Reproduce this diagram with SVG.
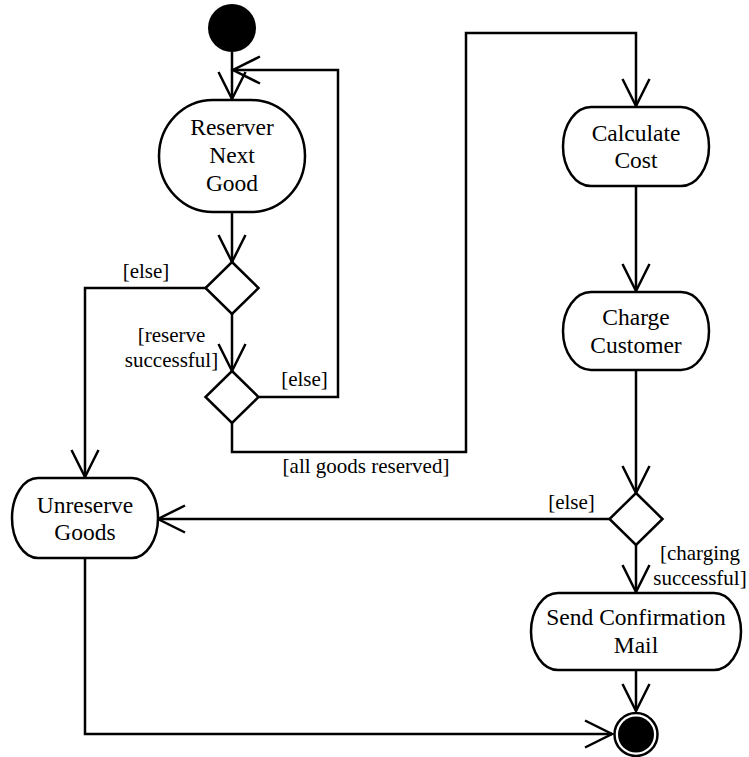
<svg xmlns="http://www.w3.org/2000/svg" width="749" height="757" viewBox="0 0 749 757">
  <style>
    .node { fill: #fff; stroke: #000; stroke-width: 2.5; }
    .solid { fill: #000; stroke: none; }
    .edge { fill: none; stroke: #000; stroke-width: 2.5; marker-end: url(#open); }
    text { fill: #000; text-anchor: middle; }
    .lbl { font-size: 23.5px; }
    .guard { font-size: 21px; }
  </style>
  <defs>
    <marker id="open" markerUnits="userSpaceOnUse" markerWidth="40" markerHeight="40" viewBox="-32 -20 40 40" refX="0" refY="0" orient="auto" overflow="visible">
      <path d="M-27,-13.5 L0,0 L-27,13.5" fill="none" stroke="#000" stroke-width="2.5"/>
    </marker>
  </defs>

  <rect width="749" height="757" fill="#fff"/>

  <g font-family="'Liberation Serif', 'DejaVu Serif', serif">
  <g id="connectors">
    <path class="edge" d="M232,52 V99"/>
    <path class="edge" d="M259,397 H338 V70 H233"/>
    <path class="edge" d="M232,212 V262"/>
    <path class="edge" d="M232,314 V371"/>
    <path class="edge" d="M206,288 H85 V477"/>
    <path class="edge" d="M232,423 V452 H466 V33 H636 V106"/>
    <path class="edge" d="M636,186 V291"/>
    <path class="edge" d="M636,370 V493"/>
    <path class="edge" d="M610,519 H158"/>
    <path class="edge" d="M636,545 V592"/>
    <path class="edge" d="M636,670 V711"/>
    <path class="edge" d="M85,558 V734 H612"/>
    <text class="guard" x="146" y="278">[else]</text>
    <text class="guard" x="171.5" y="342">[reserve</text>
    <text class="guard" x="171.5" y="367">successful]</text>
    <text class="guard" x="304.5" y="386">[else]</text>
    <text class="guard" x="366" y="473">[all goods reserved]</text>
    <text class="guard" x="571.5" y="509">[else]</text>
    <text class="guard" x="700" y="560">[charging</text>
    <text class="guard" x="700" y="585">successful]</text>
  </g>

  <g id="start">
    <circle class="solid" cx="232" cy="28" r="24"/>
  </g>

  <g id="reserve-next-good">
    <rect class="node" x="159" y="100" width="146" height="112" rx="54" ry="56"/>
    <text class="lbl" x="232" y="135">Reserver</text>
    <text class="lbl" x="232" y="163">Next</text>
    <text class="lbl" x="232" y="191">Good</text>
  </g>

  <g id="decision-reserve">
    <polygon class="node" points="232,262 258.5,288 232,314 205.5,288"/>
  </g>

  <g id="decision-all-reserved">
    <polygon class="node" points="232,371 258.5,397 232,423 205.5,397"/>
  </g>

  <g id="calculate-cost">
    <rect class="node" x="563" y="107" width="146" height="79" rx="28" ry="39.5"/>
    <text class="lbl" x="636" y="141">Calculate</text>
    <text class="lbl" x="636" y="168">Cost</text>
  </g>

  <g id="charge-customer">
    <rect class="node" x="563" y="292" width="146" height="78" rx="28" ry="39"/>
    <text class="lbl" x="636" y="325">Charge</text>
    <text class="lbl" x="636" y="353">Customer</text>
  </g>

  <g id="decision-charging">
    <polygon class="node" points="636,493 662.5,519 636,545 609.5,519"/>
  </g>

  <g id="unreserve-goods">
    <rect class="node" x="12" y="478" width="146" height="80" rx="26" ry="40"/>
    <text class="lbl" x="85" y="513">Unreserve</text>
    <text class="lbl" x="85" y="540">Goods</text>
  </g>

  <g id="send-confirmation-mail">
    <rect class="node" x="531" y="593" width="210" height="77" rx="27" ry="38.5"/>
    <text class="lbl" x="636" y="625">Send Confirmation</text>
    <text class="lbl" x="636" y="653">Mail</text>
  </g>

  <g id="end">
    <circle class="node" cx="636" cy="734.5" r="21.5"/>
    <circle class="solid" cx="636" cy="734.5" r="18"/>
  </g>
  </g>
</svg>
